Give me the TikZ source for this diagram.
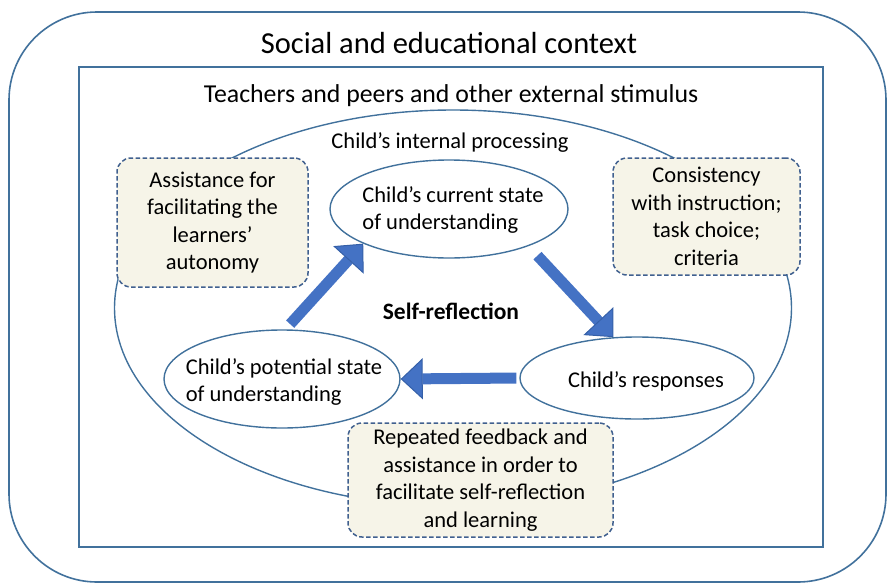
\documentclass[tikz,border=0pt]{standalone}
\usepackage{fontspec}
\setmainfont{Carlito}
\usetikzlibrary{shapes.geometric,arrows.meta}
\definecolor{frameblue}{HTML}{41719C}
\definecolor{flowblue}{HTML}{4472C4}
\definecolor{flowedge}{HTML}{3560A8}
\definecolor{notefill}{HTML}{F6F4E8}
\definecolor{notedash}{HTML}{40608F}

\begin{document}
\begin{tikzpicture}[x=1pt,y=-1pt,
	txt/.style={font=\fontsize{22.5}{27.5}\selectfont},
	state/.style={ellipse,draw=frameblue,line width=1.4pt,fill=white,inner sep=0pt},
	note/.style={rectangle,rounded corners=14pt,draw=notedash,dash pattern=on 4.5pt off 2.5pt,line width=1.5pt,fill=notefill,align=center,inner sep=0pt,txt},
	flow/.style={flowblue,line width=11pt,-{Triangle[length=22pt,width=41pt,line width=1pt,fill=flowblue,flowedge]}}]
		\useasboundingbox (0,0) rectangle (887,584);

		\draw[frameblue,line width=1.6pt,rounded corners=88pt] (9,12) rectangle (886,582);
		\draw[frameblue,line width=1.8pt] (79,67) rectangle (823,547);

		\node[txt,font=\fontsize{30.5}{35}\selectfont] (ctx) at (449,43) {Social and educational context};
		\node[txt,font=\fontsize{25.8}{31}\selectfont] (ext) at (451,96) {Teachers and peers and other external stimulus};

		\node[ellipse,draw=frameblue,line width=1.4pt,minimum width=677pt,minimum height=396pt,inner sep=0pt] (inner) at (453,308) {};
		\node[txt] (proc) at (450,142) {Child’s internal processing};

		\node[note,minimum width=191pt,minimum height=129pt] (n1) at (212.5,222.5) {Assistance for\\facilitating the\\learners’\\autonomy};
		\node[note,minimum width=187pt,minimum height=117pt] (n2) at (706.5,216.5) {Consistency\\with instruction;\\task choice;\\criteria};
		\node[note,minimum width=265pt,minimum height=114pt] (n3) at (480.5,480) {Repeated feedback and\\assistance in order to\\facilitate self-reflection\\and learning};

		\node[state,minimum width=238pt,minimum height=98pt] (current) at (449,209) {};
		\node[state,minimum width=236pt,minimum height=98pt] (potential) at (282,379) {};
		\node[state,minimum width=234pt,minimum height=82pt] (responses) at (637,378) {};
		\node[txt,align=left] (current-t) at (453,210) {Child’s current state\\of understanding};
		\node[txt,align=left] (potential-t) at (284,382) {Child’s potential state\\of understanding};
		\node[txt] (responses-t) at (646,381) {Child’s responses};

		\node[txt,font=\fontsize{23.5}{28}\selectfont\bfseries] (self) at (451,311) {Self-reflection};

		\draw[flow,shorten <=7pt] (potential.86) -- (current.202);
		\draw[flow,shorten <=13pt] (current.-25) -- (responses.120);
		\draw[flow,shorten <=3pt] (responses.west) -- (potential.east);
	\end{tikzpicture}
\end{document}
